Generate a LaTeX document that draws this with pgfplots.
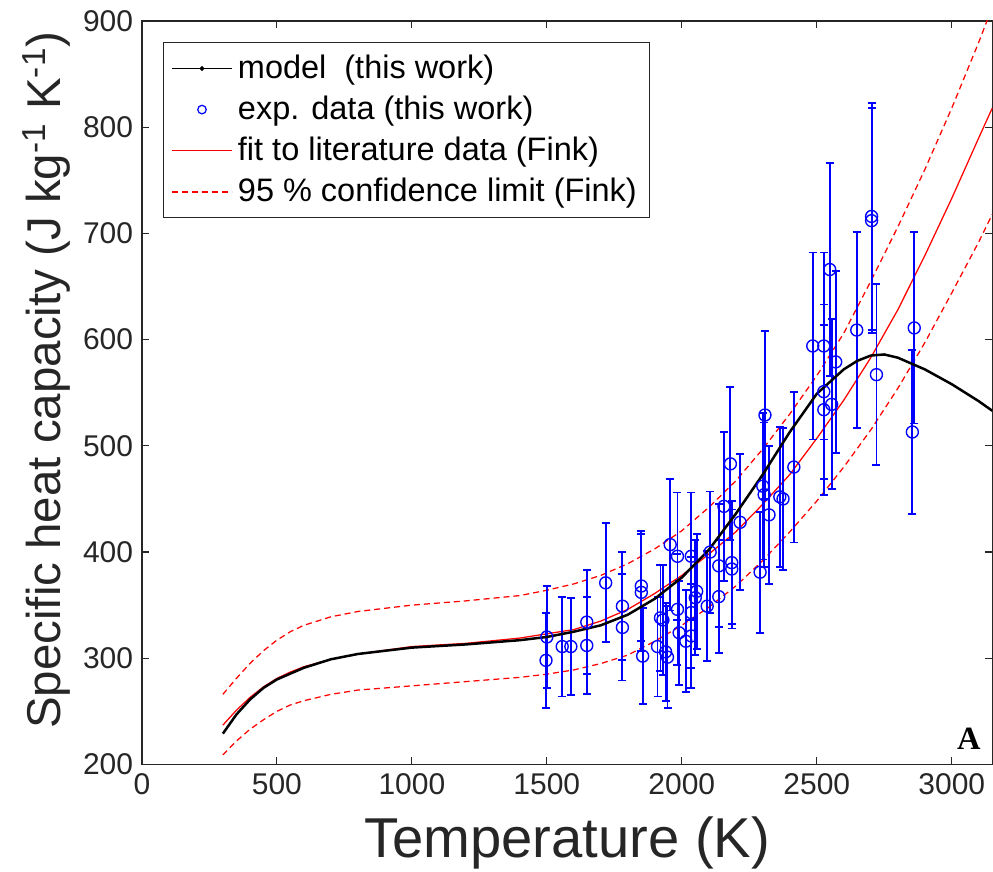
\documentclass[border=0pt]{standalone}
\usepackage{fontspec}
\setmainfont{Liberation Sans}
\newfontfamily\seriffont{Liberation Serif}
\usepackage{pgfplots}
\usepackage{pgfplotstable}
\pgfplotsset{compat=1.18}
\definecolor{axgray}{RGB}{38,38,38}

% measured points: temperature, cp, half width of the error bar
\pgfplotstableread{
T cp err
1497 298 45
1500 320 48
1557 311 47
1589 311 46
1648 312 46
1648 334 49
1718 371 56
1780 329 50
1780 349 51
1850 368 52
1850 362 55
1855 302 45
1910 311 47
1921 338 50
1930 336 52
1940 306 46
1947 301 48
1957 407 62
1984 396 60
1984 346 52
1990 324 49
2015 316 48
2035 396 60
2035 343 52
2035 321 49
2050 357 54
2055 363 54
2094 349 52
2105 400 57
2137 387 58
2137 358 53
2156 443 70
2180 483 72
2185 390 58
2185 384 56
2216 428 64
2290 381 57
2300 462 69
2305 454 68
2308 529 79
2323 435 65
2363 452 66
2375 450 67
2415 480 71
2485 594 88
2526 594 88
2526 551 82
2526 534 80
2548 666 100
2555 539 80
2570 579 86
2648 609 92
2703 716 107
2703 712 106
2721 567 85
2854 513 77
2861 611 90
}\expdata

\pgfplotstableread{
T cp
300 229
350 247
400 261
450 272
500 280
600 291
700 299
800 304
900 307
1000 310
1200 313
1400 317
1500 320
1600 325
1700 331
1800 341
1900 356
2000 376
2100 402
2200 436
2300 473
2400 513
2500 549
2600 572
2650 580
2700 585
2750 586
2800 583
2900 572
3000 558
3100 542
3150 533
}\model

\pgfplotstableread{
T fit up lo
300 237 266 209
350 251 281 222
400 263 295 233
450 273 307 242
500 281 317 250
550 287 325 256
600 292 331 260
700 299 339 266
800 304 344 270
1000 311 350 274
1200 314 354 278
1400 319 359 282
1500 323 364 285
1600 327 370 289
1700 335 378 295
1800 346 389 303
1900 361 403 316
2000 378 420 331
2100 398 442 348
2200 419 467 368
2300 445 497 392
2400 473 530 419
2500 507 566 448
2600 543 606 480
2700 583 655 515
2800 628 706 554
2900 679 760 597
3000 733 818 644
3100 790 880 692
3150 818 913 718
}\fink

\begin{document}
\begin{tikzpicture}
\begin{axis}[
  name=ax,
  scale only axis,
  width=340.4pt, height=297.6pt,
  xmin=0, xmax=3150, ymin=200, ymax=900,
  xtick={0,500,...,3000}, ytick={200,300,...,900},
  axis line style={axgray, line width=0.5pt},
  tick style={axgray, line width=0.5pt},
  major tick length=2.8pt,
  tick align=inside,
  tick label style={axgray, font=\fontsize{12}{14}\selectfont},
  /pgf/number format/assume math mode=true,
  /pgf/number format/1000 sep={},
  xlabel={Temperature (K)},
  ylabel={Specific heat capacity (J kg\textsuperscript{-1} K\textsuperscript{-1})},
  xlabel style={axgray, font=\fontsize{22.5}{26}\selectfont, at={(axis description cs:0.5,-0.105)}, anchor=center},
  ylabel style={axgray, font=\fontsize{19}{22}\selectfont, at={(axis description cs:-0.112,0.517)}, anchor=center},
  legend cell align=left,
  legend image code/.code={\draw[mark repeat=2, mark phase=2, #1] plot coordinates {(0pt,0pt) (12pt,0pt) (24pt,0pt)};},
  legend style={at={(axis description cs:0.0247,0.972)}, anchor=north west,
    draw=axgray, line width=0.5pt, fill=white,
    font=\fontsize{13}{15}\selectfont, row sep=1.5pt,
    inner xsep=3pt, inner ysep=3pt},
]
\addplot[red, line width=0.5pt, forget plot] table[x=T, y=fit] {\fink};
\addplot[red, line width=0.5pt, dash pattern=on 2.4pt off 1.6pt, forget plot] table[x=T, y=up] {\fink};
\addplot[red, line width=0.5pt, dash pattern=on 2.4pt off 1.6pt, forget plot] table[x=T, y=lo] {\fink};
\addplot[blue, only marks, mark=o, mark size=2.4pt, mark options={blue, line width=0.55pt}, forget plot,
  error bars/.cd, y dir=both, y explicit,
  error bar style={blue, line width=0.75pt},
  error mark options={blue, line width=0.75pt, mark size=1.6pt, rotate=90}]
  table[x=T, y=cp, y error=err] {\expdata};
\addplot[black, line width=1pt, forget plot] table[x=T, y=cp] {\model};

\addlegendimage{draw=black, line width=0.5pt, mark=*, mark size=0.7pt, mark options={fill=black}}
\addlegendentry{model~ (this work)}
\addlegendimage{draw=blue, only marks, mark=o, mark size=1.7pt, mark options={line width=0.5pt}}
\addlegendentry{exp. data (this work)}
\addlegendimage{draw=red, line width=0.5pt}
\addlegendentry{fit to literature data (Fink)}
\addlegendimage{draw=red, line width=0.8pt, dash pattern=on 2.4pt off 1.6pt}
\addlegendentry{95 \% confidence limit (Fink)}

\node[font=\seriffont\bfseries\fontsize{13}{15}\selectfont] at (axis cs:3063,224) {A};
\end{axis}
\pgfresetboundingbox
\path[use as bounding box] ([xshift=-56.8pt, yshift=-42.8pt]ax.south west) rectangle ([yshift=8.4pt, xshift=0.3pt]ax.north east);
\end{tikzpicture}
\end{document}
